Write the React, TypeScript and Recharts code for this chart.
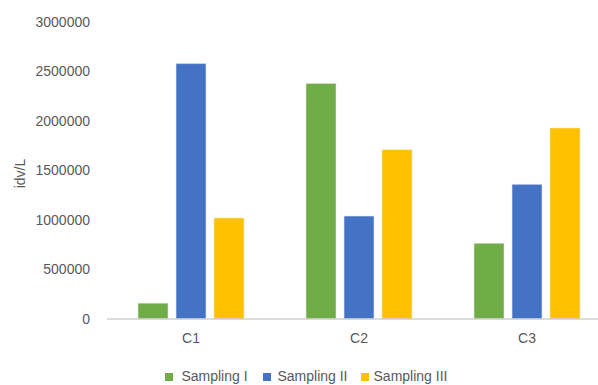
import { BarChart, Bar, XAxis, YAxis, Legend } from "recharts";

// Abundance per site and sampling campaign
const sites = ["C1", "C2", "C3"];
const samplingI = [160000, 2380000, 765000];
const samplingII = [2580000, 1040000, 1360000];
const samplingIII = [1020000, 1710000, 1930000];
const yTicks = [0, 500000, 1000000, 1500000, 2000000, 2500000, 3000000];

const data = sites.map((site, i) => ({
  site,
  s1: samplingI[i],
  s2: samplingII[i],
  s3: samplingIII[i],
}));

const TEXT = "#595959";
const FONT = "'Liberation Sans', Arial, sans-serif";

export default function App() {
  return (
    <div
      style={{
        position: "absolute",
        left: 0,
        top: 0,
        width: 598,
        height: 385,
        overflow: "hidden",
        background: "#fff",
        fontFamily: FONT,
      }}
    >
      <BarChart
        width={620}
        height={395}
        data={data}
        margin={{ top: 22, right: 9, bottom: 7, left: 0 }}
        barSize={30}
        barGap={8}
      >
        <XAxis
          dataKey="site"
          height={49}
          axisLine={{ stroke: "#d0d0d0", strokeWidth: 1.5 }}
          tickLine={false}
          tickSize={0}
          tickMargin={14}
          tick={{ fill: TEXT, fontSize: 14, fontFamily: FONT }}
        />
        <YAxis
          width={107}
          domain={[0, 3000000]}
          ticks={yTicks}
          interval={0}
          axisLine={false}
          tickLine={false}
          tickSize={0}
          tickMargin={17}
          tick={{ fill: TEXT, fontSize: 14, fontFamily: FONT }}
          label={{
            value: "idv/L",
            angle: -90,
            position: "insideLeft",
            dx: 15,
            dy: 3,
            style: { textAnchor: "middle", fill: TEXT, fontSize: 14, fontFamily: FONT },
          }}
        />
        <Legend
          verticalAlign="bottom"
          height={20}
          iconType="square"
          iconSize={8}
          wrapperStyle={{ fontSize: 14, color: TEXT, fontFamily: FONT, paddingLeft: 6 }}
          formatter={(value) => (
            <span style={{ color: TEXT, display: "inline-block", width: 76 }}>{value}</span>
          )}
        />
        <Bar dataKey="s1" name="Sampling I" fill="#70AD47" stroke="#e6e6e6" strokeWidth={0.6} isAnimationActive={false} />
        <Bar dataKey="s2" name="Sampling II" fill="#4472C4" stroke="#e6e6e6" strokeWidth={0.6} isAnimationActive={false} />
        <Bar dataKey="s3" name="Sampling III" fill="#FFC000" stroke="#e6e6e6" strokeWidth={0.6} isAnimationActive={false} />
      </BarChart>
    </div>
  );
}
